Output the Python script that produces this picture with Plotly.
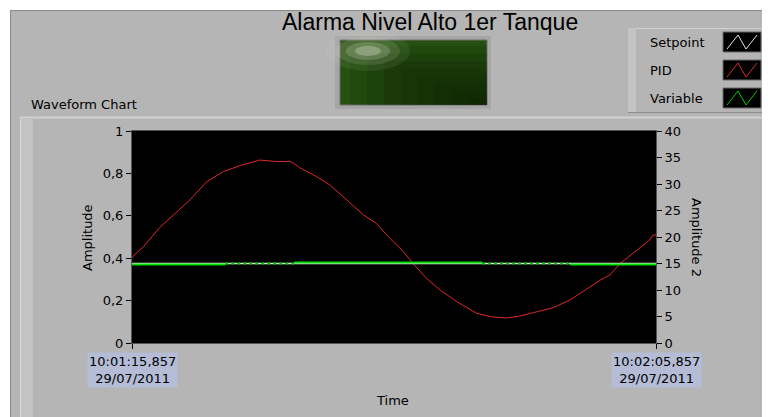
import pandas as pd
import plotly.graph_objects as go

# PID output (left axis, 0..1), seconds from start
pid_t = [0, 1.08, 2.67, 4.58, 5.53, 7.13, 8.71, 10.3, 12.2, 13.5, 15.2, 16.0, 17.6, 18.9,
         20.5, 22.1, 23.3, 24.6, 25.9, 26.8, 28.1, 29.4, 31.0, 32.9, 34.2, 35.75, 37.0,
         38.6, 40.2, 41.8, 43.7, 44.7, 45.6, 46.6, 47.8, 48.8, 49.4, 49.7, 50]
pid_v = [0.404, 0.454, 0.546, 0.635, 0.675, 0.761, 0.808, 0.837, 0.863, 0.857, 0.855, 0.827,
         0.785, 0.745, 0.675, 0.604, 0.565, 0.494, 0.431, 0.376, 0.305, 0.25, 0.195, 0.14,
         0.124, 0.118, 0.127, 0.148, 0.167, 0.203, 0.266, 0.297, 0.321, 0.376, 0.423, 0.462,
         0.486, 0.509, 0.51]

# setpoint and process variable (right axis, 0..40)
sp_t = [0, 50]
sp_v = [15, 15]
var_t = [0, 8.9, 8.9, 15.5, 15.5, 33.4, 33.4, 41.8, 41.8, 50]
var_v = [14.8, 14.8, None, None, 15.2, 15.2, None, None, 14.8, 14.8]
var_noisy_t = [8.9, 15.5, 15.5, 33.4, 41.8]
var_noisy_v = [15.0, 15.0, None, 15.0, 15.0]

t0 = pd.Timestamp("2011-07-29 10:01:15.857")
t_end = t0 + pd.Timedelta(seconds=50)
start_label = "10:01:15,857<br>29/07/2011"
end_label = "10:02:05,857<br>29/07/2011"

legend_names = ["Setpoint", "PID", "Variable"]
legend_colors = ["#e6e6e6", "#e02828", "#00d000"]


def to_time(sec):
    return [None if s is None else t0 + pd.Timedelta(seconds=s) for s in sec]


def fmt(ts):
    return ts.strftime("%Y-%m-%d %H:%M:%S.%f")[:-3]


# the page has an 8px body margin, so the figure starts at (8, 8) of the window
OFF = 8
SW, SH = 770, 417            # window size
W, H = SW - OFF, SH - OFF    # figure size
L, R, T, B = 132, 656, 131, 343   # plot area in window pixels


def fx(px):
    return (px - L) / (R - L)


def fy(py):
    return (B - py) / (B - T)


GRAY = "#b5b5b5"
FONT = "DejaVu Sans"

fig = go.Figure()
fig.add_trace(go.Scatter(x=to_time(sp_t), y=sp_v, yaxis="y2", mode="lines",
                         line=dict(color="#e6e6e6", width=1.5), name="Setpoint"))
fig.add_trace(go.Scatter(x=to_time(var_t), y=var_v, yaxis="y2", mode="lines",
                         line=dict(color="#00e000", width=2), name="Variable", connectgaps=False))
fig.add_trace(go.Scatter(x=to_time(var_noisy_t), y=var_noisy_v, yaxis="y2", mode="lines",
                         line=dict(color="#00d000", width=2, dash="dot"), showlegend=False,
                         connectgaps=False))
fig.add_trace(go.Scatter(x=to_time(pid_t), y=pid_v, mode="lines",
                         line=dict(color="#e02828", width=1), name="PID"))

shapes = []


def rect(x0, y0, x1, y1, fill, line=None, lw=0, layer="below", opacity=1):
    shapes.append(dict(type="rect", xref="paper", yref="paper",
                       x0=fx(x0), x1=fx(x1), y0=fy(y1), y1=fy(y0),
                       fillcolor=fill, opacity=opacity, layer=layer,
                       line=dict(color=line or fill, width=lw)))


def hline(x0, x1, y, color, w=1):
    shapes.append(dict(type="line", xref="paper", yref="paper", x0=fx(x0), x1=fx(x1),
                       y0=fy(y), y1=fy(y), line=dict(color=color, width=w), layer="below"))


def vline(x, y0, y1, color, w=1):
    shapes.append(dict(type="line", xref="paper", yref="paper", x0=fx(x), x1=fx(x),
                       y0=fy(y0), y1=fy(y1), line=dict(color=color, width=w), layer="below"))


# white page edges and panel border
rect(0, 0, SW, 10, "white")
rect(0, 0, 10, SH, "white")
hline(10, SW, 10.5, "#8a8a8a")
vline(10.5, 10, SH, "#8a8a8a")

# chart frame
hline(20, 763, 117.5, "#d2d2d2", 2)
rect(21, 118, 33, SH, "#c3c3c3")
vline(20.5, 117, SH, "#d8d8d8")
rect(763, 117, SW, SH, "#a9a9a9")

# legend panel
rect(628, 28, SW, 113, GRAY)
hline(628, SW, 28.5, "#d0d0d0")
rect(628, 28, 636, 112, "#c4c4c4")
hline(628, SW, 112.5, "#8e8e8e")
rows = [42, 70, 98]
for yc, col in zip(rows, legend_colors):
    rect(723, yc - 10, 761, yc + 10, "black", "#6a6a6a", 1)
    pts = [(727, yc + 7), (738, yc - 7), (746, yc + 7), (757, yc - 7)]
    path = "M " + " L ".join(f"{fx(a)},{fy(b)}" for a, b in pts)
    shapes.append(dict(type="path", xref="paper", yref="paper", path=path,
                       line=dict(color=col, width=1), layer="above"))

# alarm LED (dark green with a soft highlight)
rect(335, 36, 491, 109, "#a6a6a6")
rect(340, 40, 487, 105, "#25500f", "#6e6e6e", 1)
for i in range(8):
    rect(350 + i * 17, 46 + i * 7.5, 487, 105, "#061502", opacity=0.13)
for rx, ry, op in [(42, 20, 0.08), (32, 14, 0.12), (22, 9, 0.2), (13, 5, 0.3)]:
    shapes.append(dict(type="circle", xref="paper", yref="paper",
                       x0=fx(368 - rx), x1=fx(368 + rx), y0=fy(51 + ry), y1=fy(51 - ry),
                       fillcolor="#e4ecd6", opacity=op, line=dict(width=0), layer="above"))


def label(text, px, py, size=13, angle=0, family=FONT):
    return dict(text=text, x=fx(px), y=fy(py), xref="paper", yref="paper",
                xanchor="center", yanchor="middle", textangle=angle, showarrow=False,
                font=dict(family=family, size=size, color="black"))


annotations = [
    label("Alarma Nivel Alto 1er Tanque", 430, 22, 23, family="Liberation Sans"),
    label("Waveform Chart", 84, 104),
    label("Amplitude", 87, 238, angle=-90),
    label("Amplitude 2", 697, 237, angle=90),
    label("Time", 392, 400),
]
for name, yc in zip(legend_names, rows):
    a = label(name, 648, yc)
    a["xanchor"] = "left"
    annotations.append(a)
for ts, lab in [(t0, start_label), (t_end, end_label)]:
    annotations.append(dict(text=lab, x=fmt(ts), y=fy(370), xref="x", yref="paper",
                            xanchor="center", yanchor="middle",
                            showarrow=False, bgcolor="#b4bcd6", borderpad=1,
                            font=dict(family=FONT, size=13, color="black")))

fig.update_layout(
    width=W, height=H,
    margin=dict(l=L - OFF, r=SW - R, t=T - OFF, b=SH - B, autoexpand=False),
    paper_bgcolor=GRAY, plot_bgcolor="black",
    separators=",.",
    showlegend=False,
    shapes=shapes, annotations=annotations,
    font=dict(family=FONT, size=13, color="black"),
    xaxis=dict(type="date", range=[fmt(t0), fmt(t_end)], showgrid=False, zeroline=False,
               tickvals=[fmt(t0), fmt(t_end)], showticklabels=False,
               ticks="outside", ticklen=5, tickcolor="black",
               showline=True, mirror=True, linecolor="#555555", linewidth=1),
    yaxis=dict(range=[0, 1], dtick=0.2, showgrid=False, zeroline=False,
               ticks="outside", ticklen=5, tickcolor="black",
               tickfont=dict(family=FONT, size=13, color="black"),
               showline=True, mirror=True, linecolor="#555555", linewidth=1),
    yaxis2=dict(range=[0, 40], dtick=5, overlaying="y", side="right",
                showgrid=False, zeroline=False,
                ticks="outside", ticklen=5, tickcolor="black",
                tickfont=dict(family=FONT, size=13, color="black"),
                showline=True, linecolor="#555555", linewidth=1),
)

fig.write_html("out.html")
